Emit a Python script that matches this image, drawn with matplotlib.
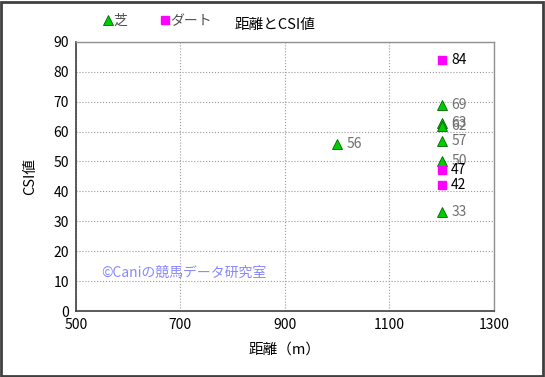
import matplotlib
matplotlib.use("Agg")
import matplotlib.pyplot as plt
from matplotlib.patches import Rectangle

plt.rcParams['font.family'] = ['Noto Sans CJK JP', 'DejaVu Sans']

# data
turf_dist = [1000, 1200, 1200, 1200, 1200, 1200, 1200]
turf_csi = [56, 69, 63, 62, 57, 50, 33]
dirt_dist = [1200, 1200, 1200]
dirt_csi = [84, 47, 42]

title = '距離とCSI値'
x_label = '距離（m）'
y_label = 'CSI値'
x_ticks = [500, 700, 900, 1100, 1300]
y_ticks = list(range(0, 91, 10))
watermark = '©Caniの競馬データ研究室'

fig = plt.figure(figsize=(5.45, 3.77), dpi=100)
ax = fig.add_axes([0.139, 0.175, 0.767, 0.714])

ax.plot(turf_dist, turf_csi, linestyle='none', marker='^', markersize=7,
        markerfacecolor='#00cc00', markeredgecolor='#006600', markeredgewidth=0.6,
        label='芝', zorder=3)
ax.plot(dirt_dist, dirt_csi, linestyle='none', marker='s', markersize=6,
        markerfacecolor='#ff00ff', markeredgecolor='#ff00ff',
        label='ダート', zorder=3)

for x, y in zip(turf_dist, turf_csi):
    ax.annotate(str(y), (x, y), xytext=(7, 0), textcoords='offset points',
                ha='left', va='center', fontsize=10, color='#707070')
for x, y in zip(dirt_dist, dirt_csi):
    ax.annotate(str(y), (x, y), xytext=(7, 0), textcoords='offset points',
                ha='left', va='center', fontsize=10, color='black')

ax.set_xlim(500, 1300)
ax.set_ylim(0, 90)
ax.set_xticks(x_ticks)
ax.set_yticks(y_ticks)
ax.tick_params(labelsize=10, length=0, pad=5)
ax.grid(True, linestyle=':', color='#999999', linewidth=0.8)

for s in ['left', 'bottom']:
    ax.spines[s].set_color('#404040')
    ax.spines[s].set_linewidth(1.2)
for s in ['top', 'right']:
    ax.spines[s].set_color('#909090')
    ax.spines[s].set_linewidth(1.0)

ax.set_xlabel(x_label, fontsize=10.5, labelpad=8)
ax.set_ylabel(y_label, fontsize=10.5, labelpad=12)

ax.text(548, 12.8, watermark, fontsize=10, color='#8888ff', va='center', ha='left')

fig.text(0.505, 0.933, title, fontsize=10.5, ha='center', va='center')

ax.legend(loc='center left', bbox_to_anchor=(0.19, 0.944), bbox_transform=fig.transFigure,
          ncol=2, frameon=False, borderpad=0, borderaxespad=0,
          fontsize=10, handlelength=0.6, handletextpad=0.1, columnspacing=2.4,
          labelcolor='#505050')

fig.patches.append(Rectangle((0.002, 0.003), 0.995, 0.993, transform=fig.transFigure,
                             fill=False, edgecolor='#404040', linewidth=2))

fig.savefig('out.png', dpi=100)
